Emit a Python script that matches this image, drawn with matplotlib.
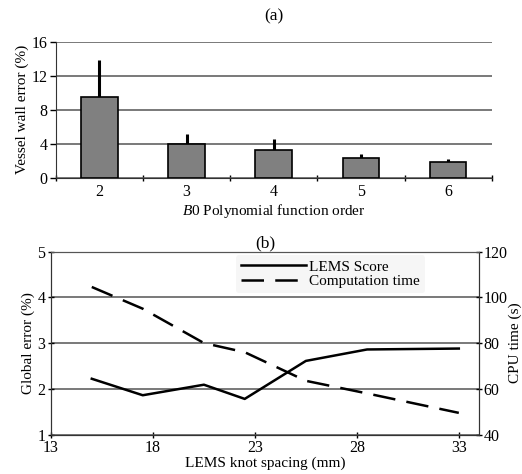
import matplotlib
matplotlib.use('Agg')
import matplotlib.pyplot as plt
import numpy as np

plt.rcParams['font.family'] = 'Liberation Serif'
plt.rcParams['mathtext.fontset'] = 'custom'
plt.rcParams['mathtext.it'] = 'Liberation Serif:italic'
plt.rcParams['mathtext.rm'] = 'Liberation Serif'

# (a) vessel wall error vs B0 polynomial order
orders = ['2', '3', '4', '5', '6']
wall_error = [9.55, 3.95, 3.3, 2.38, 1.88]
wall_err_up = [4.3, 1.18, 1.24, 0.44, 0.3]

# (b) global error and CPU time vs knot spacing
spacing = [15, 17.5, 20.5, 22.5, 25.5, 28.5, 33]
lems_score = [2.22, 1.86, 2.09, 1.78, 2.61, 2.86, 2.88]
cpu_time = [104.5, 95, 80, 76, 63.5, 58, 49.5]

grid_col = '#555555'
tick_fs = 11.5
lab_fs = 11
fig = plt.figure(figsize=(5.22, 4.74), dpi=100)

# ---- panel (a)
ax1 = fig.add_axes([0.1067, 0.6245, 0.8353, 0.2875])
x = np.arange(len(orders))
ax1.bar(x, wall_error, width=0.42, color='#808080', edgecolor='black', linewidth=1.2, zorder=3)
ax1.errorbar(x, wall_error, yerr=[np.zeros(len(x)), wall_err_up], fmt='none',
             ecolor='black', elinewidth=2.2, capsize=0, zorder=2)
ax1.set_xlim(-0.5, 4.5)
ax1.set_ylim(0, 16)
ax1.set_yticks([0, 4, 8, 12, 16])
ax1.yaxis.grid(True, color=grid_col, linewidth=1.1)
ax1.set_axisbelow(True)
ax1.set_xticks(x)
ax1.set_xticklabels(orders)
ax1.set_xticks(np.arange(-0.5, 5, 1), minor=True)
ax1.tick_params(axis='x', which='major', length=0, labelsize=tick_fs, pad=4)
ax1.tick_params(axis='x', which='minor', length=4, direction='inout', width=1)
ax1.tick_params(axis='y', labelsize=tick_fs, length=4, direction='out', width=1, pad=2)
for s in ['top', 'right']:
    ax1.spines[s].set_visible(False)
ax1.spines['left'].set_color('#333333')
ax1.spines['bottom'].set_color('#333333')
ax1.set_ylabel('Vessel wall error (%)', fontsize=lab_fs, labelpad=2)
ax1.set_xlabel(r'$\it{B}$0 Polynomial function order', fontsize=lab_fs, labelpad=2)
ax1.set_title('(a)', fontsize=12.5, pad=15)

# ---- panel (b)
ax2 = fig.add_axes([0.0977, 0.0831, 0.8203, 0.3863])
ax2.set_xlim(13, 34)
ax2.set_ylim(1, 5)
ax2.set_xticks([13, 18, 23, 28, 33])
ax2.set_yticks([1, 2, 3, 4, 5])
ax2.yaxis.grid(True, color=grid_col, linewidth=1.1)
ax2.set_axisbelow(True)
l1, = ax2.plot(spacing, lems_score, color='black', linewidth=1.8, label='LEMS Score', zorder=3)
ax2.tick_params(axis='both', labelsize=tick_fs, length=4, direction='inout', width=1, pad=2)
ax2.set_xlabel('LEMS knot spacing (mm)', fontsize=lab_fs, labelpad=0)
ax2.set_ylabel('Global error (%)', fontsize=lab_fs, labelpad=2)
ax2.set_title('(b)', fontsize=12.5, pad=3)

ax3 = ax2.twinx()
ax3.set_ylim(40, 120)
ax3.set_yticks([40, 60, 80, 100, 120])
l2, = ax3.plot(spacing, cpu_time, color='black', linewidth=1.8, dashes=(9, 4.5),
               label='Computation time', zorder=3)
ax3.tick_params(axis='y', labelsize=tick_fs, length=4, direction='inout', width=1, pad=1)
ax3.set_ylabel('CPU time (s)', fontsize=lab_fs, labelpad=1)
for a in (ax2, ax3):
    for s in a.spines.values():
        s.set_color('#333333')
ax2.spines['top'].set_color(grid_col)
ax3.spines['top'].set_color(grid_col)

leg = ax3.legend(handles=[l1, l2], loc='upper right', bbox_to_anchor=(0.88, 0.995),
                 fontsize=lab_fs, frameon=True, handlelength=4.3, handletextpad=0.2,
                 labelspacing=0.05, borderpad=0.3, borderaxespad=0.2)
leg.get_frame().set_facecolor('#f6f6f6')
leg.get_frame().set_edgecolor('none')
leg.get_frame().set_alpha(1)

fig.savefig('out.png', dpi=100)
